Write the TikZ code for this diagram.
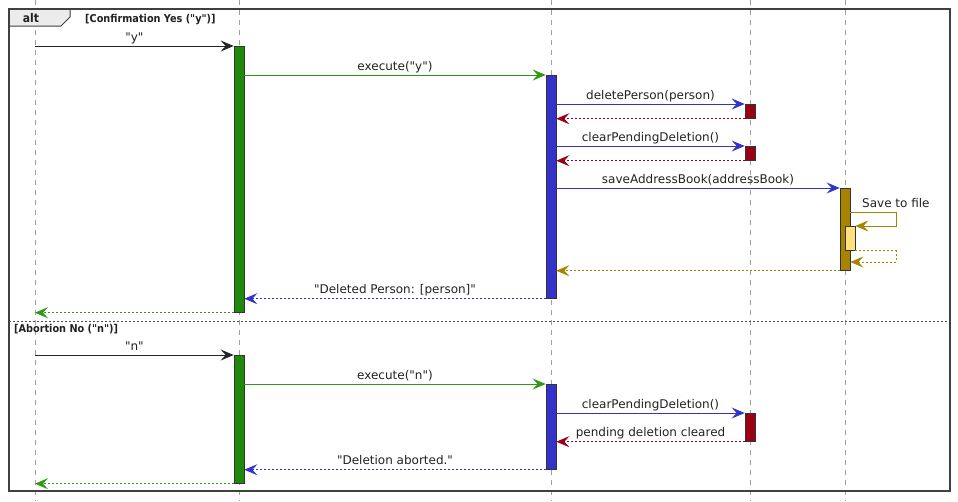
\documentclass[tikz,border=0pt]{standalone}
\usepackage{fontspec}
\setmainfont{DejaVu Sans}[Ligatures=TeXOff]
\newfontfamily\condfont{DejaVu Sans Condensed}[Ligatures=TeXOff]
\usetikzlibrary{arrows.meta}
\definecolor{grn}{HTML}{1F8A0A}
\definecolor{grnl}{HTML}{2E9A14}
\definecolor{blu}{HTML}{3333CC}
\definecolor{rd}{HTML}{9B0014}
\definecolor{gld}{HTML}{A88300}
\definecolor{ylw}{HTML}{FFE07A}
\definecolor{txt}{HTML}{222222}
\begin{document}
\begin{tikzpicture}[x=1pt,y=-1pt,
  life/.style={draw=gray!75, dash pattern=on 5pt off 5pt, line width=0.6pt},
  act/.style={draw=black!80, line width=0.7pt, minimum width=10pt, inner sep=0pt, anchor=north},
  msg/.style={line width=0.8pt, -{Stealth[length=13pt,width=11pt,inset=5pt]}},
  ret/.style={msg, dash pattern=on 2pt off 2pt},
  lbl/.style={font=\fontsize{12}{14}\selectfont, text=txt, anchor=base, inner sep=0pt, yshift=5pt},
  cond/.style={font=\condfont\bfseries\fontsize{10.8}{12}\selectfont, anchor=base west, inner sep=0pt, text=txt}
]
\useasboundingbox (0,0) rectangle (958,501);
\fill[white] (0,0) rectangle (958,501);
% lifelines
\coordinate (A) at (35,0);
\coordinate (B) at (239,0);
\coordinate (C) at (551,0);
\coordinate (D) at (750,0);
\coordinate (E) at (845,0);
\foreach \p in {A,B,C,D,E} {\draw[life] (\p) -- ++(0,501);}
% frame
\draw[fill=gray!15, line width=1pt, draw=black!75] (9,9) -- (70,9) -- (70,17) -- (61,26) -- (9,26) -- cycle;
\draw[line width=1.4pt, draw=black!75] (9,9) rectangle (950,491);
\node[font=\condfont\bfseries\fontsize{12}{13}\selectfont, anchor=base, inner sep=0pt, text=txt] (alt) at (31,22) {alt};
\node[cond] (c1) at (85,22) {[Confirmation Yes ("y")]};
\draw[black!70, dash pattern=on 2pt off 2pt, line width=0.7pt] (9,321) -- (950,321);
\node[cond] (c2) at (14,332) {[Abortion No ("n")]};
% activations
\node[act, fill=grn, minimum height=266pt] (g1) at (239,46) {};
\node[act, fill=blu, minimum height=223pt] (b1) at (551,75) {};
\node[act, fill=rd, minimum height=14pt] (r1) at (750,104) {};
\node[act, fill=rd, minimum height=14pt] (r2) at (750,146) {};
\node[act, fill=gld, minimum height=82pt] (gd) at (845,188) {};
\node[act, fill=ylw, minimum height=24pt] (yl) at (850,226) {};
\node[act, fill=grn, minimum height=128pt] (g2) at (239,355) {};
\node[act, fill=blu, minimum height=85pt] (b2) at (551,384) {};
\node[act, fill=rd, minimum height=28pt] (r3) at (750,413) {};
% block 1 messages
\draw[msg, black!85] (A |- g1.north) -- (g1.north west) node[lbl, midway] {"y"};
\draw[msg, grnl] (g1.east |- b1.north) -- (b1.north west) node[lbl, midway] {execute("y")};
\draw[msg, blu] (b1.east |- r1.north) -- (r1.north west) node[lbl, midway] {deletePerson(person)};
\draw[ret, rd] (r1.south west) -- (b1.east |- r1.south);
\draw[msg, blu] (b1.east |- r2.north) -- (r2.north west) node[lbl, midway] {clearPendingDeletion()};
\draw[ret, rd] (r2.south west) -- (b1.east |- r2.south);
\draw[msg, blu] (b1.east |- gd.north) -- (gd.north west) node[lbl, midway] {saveAddressBook(addressBook)};
\coordinate (s1) at (896,212);
\coordinate (s2) at (896,262);
\draw[msg, gld] (gd.east |- s1) -- (s1) -- (s1 |- yl.north) -- (yl.north east);
\node[font=\fontsize{12}{14}\selectfont, text=txt, anchor=base west, inner sep=0pt] (sf) at (862,207) {Save to file};
\draw[ret, gld] (yl.south east) -- (s2 |- yl.south) -- (s2) -- (gd.east |- s2);
\draw[ret, gld] (gd.south west) -- (b1.east |- gd.south);
\draw[ret, blu] (b1.south west) -- (g1.east |- b1.south) node[lbl, midway] {"Deleted Person: [person]"};
\draw[ret, grnl] (g1.south west) -- (A |- g1.south);
% block 2 messages
\draw[msg, black!85] (A |- g2.north) -- (g2.north west) node[lbl, midway] {"n"};
\draw[msg, grnl] (g2.east |- b2.north) -- (b2.north west) node[lbl, midway] {execute("n")};
\draw[msg, blu] (b2.east |- r3.north) -- (r3.north west) node[lbl, midway] {clearPendingDeletion()};
\draw[ret, rd] (r3.south west) -- (b2.east |- r3.south) node[lbl, midway] {pending deletion cleared};
\draw[ret, blu] (b2.south west) -- (g2.east |- b2.south) node[lbl, midway] {"Deletion aborted."};
\draw[ret, grnl] (g2.south west) -- (A |- g2.south);
\end{tikzpicture}
\end{document}
